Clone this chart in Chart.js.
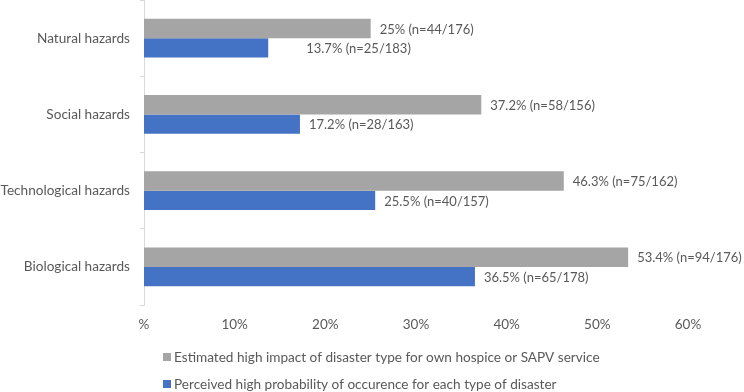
<!DOCTYPE html>
<html lang="en">
<head>
    <meta charset="UTF-8">
    <title>Disaster types - hospice / SAPV</title>
    <script src="https://cdn.jsdelivr.net/npm/chart.js"></script>
    <style>
        html, body { margin: 0; padding: 0; background: #fff; }
        #wrap { width: 744px; height: 392px; position: relative; }
    </style>
</head>
<body>
    <div id="wrap"><canvas id="hazardChart"></canvas></div>

    <script>
        // data
        const categories = ['Natural hazards', 'Social hazards', 'Technological hazards', 'Biological hazards'];
        const seriesNames = [
            'Estimated high impact of disaster type for own hospice or SAPV service',
            'Perceived high probability of occurence for each type of disaster'
        ];
        const impactPct = [25, 37.2, 46.3, 53.4];
        const impactN = [44, 58, 75, 94];
        const impactTotal = [176, 156, 162, 176];
        const probPct = [13.7, 17.2, 25.5, 36.5];
        const probN = [25, 28, 40, 65];
        const probTotal = [183, 163, 157, 178];
        const xTicks = [0, 10, 20, 30, 40, 50, 60];

        const textColor = '#595959';
        const fontFamily = 'Lato, "Open Sans", sans-serif';

        function labelText(pct, n, total, i) {
            return pct[i] + '% (n=' + n[i] + '/' + total[i] + ')';
        }

        // value labels to the right of each bar
        const barLabels = {
            id: 'barLabels',
            afterDatasetsDraw(chart, args, opts) {
                const ctx = chart.ctx;
                ctx.save();
                ctx.font = '13px ' + fontFamily;
                ctx.fillStyle = textColor;
                ctx.textAlign = 'left';
                ctx.textBaseline = 'middle';
                chart.data.datasets.forEach((ds, d) => {
                    chart.getDatasetMeta(d).data.forEach((bar, i) => {
                        let extra = (opts.nudge[d] && opts.nudge[d][i]) || 0;
                        ctx.fillText(ds.labelsText[i], bar.x + 9 + extra, bar.y + 1);
                    });
                });
                ctx.restore();
            }
        };

        // legend stacked below the axis, left aligned
        const stackedLegend = {
            id: 'stackedLegend',
            afterDraw(chart, args, opts) {
                const ctx = chart.ctx;
                ctx.save();
                ctx.font = '13.6px ' + fontFamily;
                ctx.textBaseline = 'middle';
                chart.data.datasets.forEach((ds, d) => {
                    const y = opts.top + d * opts.rowGap;
                    ctx.fillStyle = ds.backgroundColor;
                    ctx.fillRect(opts.left, y - 4, 8, 8);
                    ctx.fillStyle = textColor;
                    ctx.fillText(ds.label, opts.left + 11, y + 1);
                });
                ctx.restore();
            }
        };

        new Chart(document.getElementById('hazardChart'), {
            type: 'bar',
            data: {
                labels: categories,
                datasets: [{
                    label: seriesNames[0],
                    data: impactPct,
                    labelsText: impactPct.map((v, i) => labelText(impactPct, impactN, impactTotal, i)),
                    backgroundColor: '#a5a5a5'
                }, {
                    label: seriesNames[1],
                    data: probPct,
                    labelsText: probPct.map((v, i) => labelText(probPct, probN, probTotal, i)),
                    backgroundColor: '#4472c4'
                }]
            },
            options: {
                indexAxis: 'y',
                responsive: true,
                maintainAspectRatio: false,
                animation: false,
                layout: { padding: { top: 0, right: 56, bottom: 57, left: 0 } },
                categoryPercentage: 0.51,
                barPercentage: 1.0,
                plugins: {
                    legend: { display: false },
                    tooltip: { enabled: false },
                    barLabels: { nudge: { 1: { 0: 29 } } },
                    stackedLegend: { left: 163, top: 357, rowGap: 27 }
                },
                scales: {
                    x: {
                        min: 0,
                        max: 60,
                        afterBuildTicks: (scale) => { scale.ticks = xTicks.map(v => ({ value: v })); },
                        afterFit: (scale) => { scale.height = 30; },
                        grid: { display: false, drawTicks: false },
                        border: { display: false },
                        ticks: {
                            padding: 12,
                            color: textColor,
                            font: { size: 13.5, family: fontFamily },
                            callback: (v) => v === 0 ? '%' : v + '%'
                        }
                    },
                    y: {
                        afterFit: (scale) => {
                            scale.width = 144;
                            scale.paddingTop = 0;
                            scale.paddingBottom = 0;
                        },
                        grid: {
                            display: true,
                            drawOnChartArea: false,
                            drawTicks: true,
                            tickLength: 4,
                            color: '#d9d9d9',
                            offset: true
                        },
                        border: { display: true, color: '#d9d9d9' },
                        ticks: {
                            padding: 10,
                            color: textColor,
                            font: { size: 13.6, family: fontFamily }
                        }
                    }
                }
            },
            plugins: [barLabels, stackedLegend]
        });
    </script>
</body>
</html>
